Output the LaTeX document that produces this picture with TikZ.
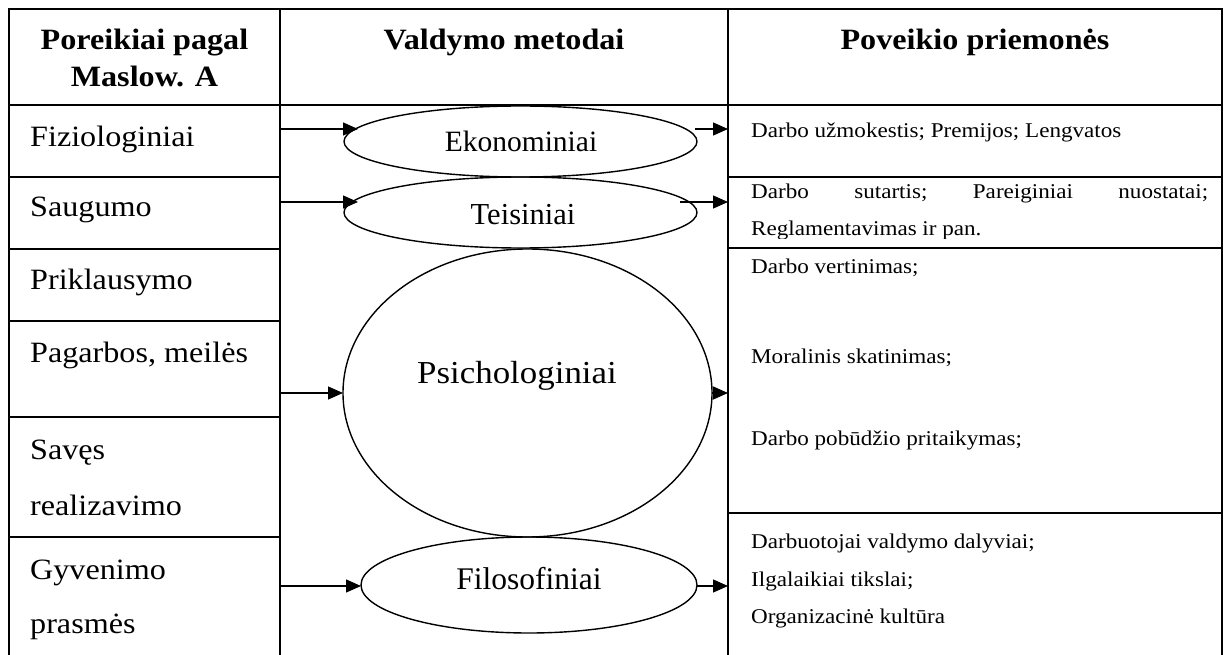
\documentclass[tikz,border=0pt]{standalone}
\usepackage{fontspec}
\setmainfont{Liberation Serif}
\newfontfamily\wide[FakeStretch=1.09]{Liberation Serif}
\newfontfamily\wider[FakeStretch=1.1]{Liberation Serif}
\usetikzlibrary{arrows.meta,shapes.geometric}
\begin{document}
\begin{tikzpicture}[x=1pt,y=-1pt,
  grid/.style={line width=1.7pt},
  meth/.style={ellipse,draw,line width=1.4pt,inner sep=0pt},
  arr/.style={line width=1.3pt,-{Triangle[length=15pt,width=13pt]}},
  lefttxt/.style={anchor=base west,inner sep=0pt,font=\wide\fontsize{29.5}{34}\selectfont},
  righttxt/.style={anchor=base west,inner sep=0pt,font=\wider\fontsize{21}{25}\selectfont},
  headtxt/.style={anchor=base,inner sep=0pt,font=\wide\bfseries\fontsize{29.5}{34}\selectfont},
  mtxt/.style={anchor=base,inner sep=0pt}]
\useasboundingbox (0,0) rectangle (1229,655);
% table frame
\draw[grid] (9,655) -- (9,9) -- (1222,9) -- (1222,655);
\draw[grid] (9,105) -- (1222,105);
\draw[grid] (280,9) -- (280,655);
\draw[grid] (728,9) -- (728,655);
\foreach \yy in {177,249,321,417,537} \draw[grid] (9,\yy) -- (280,\yy);
\foreach \yy in {177,248,513} \draw[grid] (728,\yy) -- (1222,\yy);
% headers
\node[headtxt] (h1a) at (144.5,50) {Poreikiai pagal};
\node[headtxt] (h1b) at (144.5,87) {Maslow. A};
\node[headtxt] (h2) at (504,50) {Valdymo metodai};
\node[headtxt] (h3) at (975,50) {Poveikio priemonės};
% left column
\node[lefttxt] (n1) at (30,147) {Fiziologiniai};
\node[lefttxt] (n2) at (30,217) {Saugumo};
\node[lefttxt] (n3) at (30,289) {Priklausymo};
\node[lefttxt] (n4) at (30,362) {Pagarbos, meilės};
\node[lefttxt] (n5a) at (30,459) {Savęs};
\node[lefttxt] (n5b) at (30,515) {realizavimo};
\node[lefttxt] (n6a) at (30,579) {Gyvenimo};
\node[lefttxt] (n6b) at (30,633) {prasmės};
% method ellipses
\node[meth,minimum width=353,minimum height=71] (eko) at (520.5,141.5) {};
\node[meth,minimum width=353,minimum height=71] (teis) at (520.5,212.5) {};
\node[meth,minimum width=369,minimum height=288] (psi) at (527.5,393) {};
\node[meth,minimum width=336,minimum height=96] (filo) at (529,585) {};
\node[mtxt,font=\fontsize{29.5}{34}\selectfont] (ekol) at (521,152) {Ekonominiai};
\node[mtxt,font=\fontsize{30.5}{36}\selectfont] (teisl) at (523,225) {Teisiniai};
\node[mtxt,font=\wide\fontsize{32}{36}\selectfont] (psil) at (517,383) {Psichologiniai};
\node[mtxt,font=\fontsize{31.5}{36}\selectfont] (filol) at (529,589) {Filosofiniai};
% right column
\node[righttxt] (r1) at (751,138) {Darbo užmokestis; Premijos; Lengvatos};
\node[righttxt] (r2a) at (751,199) {\makebox[457pt][s]{Darbo\hfill sutartis;\hfill Pareiginiai\hfill nuostatai;}};
\begin{scope}
\clip (729,178) rectangle (1221,238.5);
\node[righttxt] (r2b) at (751,236) {Reglamentavimas ir pan.};
\end{scope}
\node[righttxt] (r3a) at (751,273) {Darbo vertinimas;};
\node[righttxt] (r3b) at (751,363) {Moralinis skatinimas;};
\node[righttxt] (r3c) at (751,445) {Darbo pobūdžio pritaikymas;};
\node[righttxt] (r4a) at (751,548) {Darbuotojai valdymo dalyviai;};
\node[righttxt] (r4b) at (751,586) {Ilgalaikiai tikslai;};
\node[righttxt] (r4c) at (751,623) {Organizacinė kultūra};
% connector end points
\coordinate (l1) at (280,129); \coordinate (e1) at (358,129);
\coordinate (e1o) at (695,129); \coordinate (r1i) at (728,129);
\coordinate (l2) at (280,202); \coordinate (t2) at (358,202);
\coordinate (t2o) at (680,202); \coordinate (r2i) at (728,202);
\coordinate (l4) at (280,393); \coordinate (p4) at (343,393);
\coordinate (p4o) at (712,393); \coordinate (r3i) at (728,393);
\coordinate (l6) at (280,586); \coordinate (f6) at (361,586);
\coordinate (f6o) at (697,586); \coordinate (r4i) at (728,586);
\draw[arr] (l1) -- (e1);
\draw[arr] (e1o) -- (r1i);
\draw[arr] (l2) -- (t2);
\draw[arr] (t2o) -- (r2i);
\draw[arr] (l4) -- (p4);
\draw[arr] (p4o) -- (r3i);
\draw[arr] (l6) -- (f6);
\draw[arr] (f6o) -- (r4i);
\end{tikzpicture}
\end{document}
